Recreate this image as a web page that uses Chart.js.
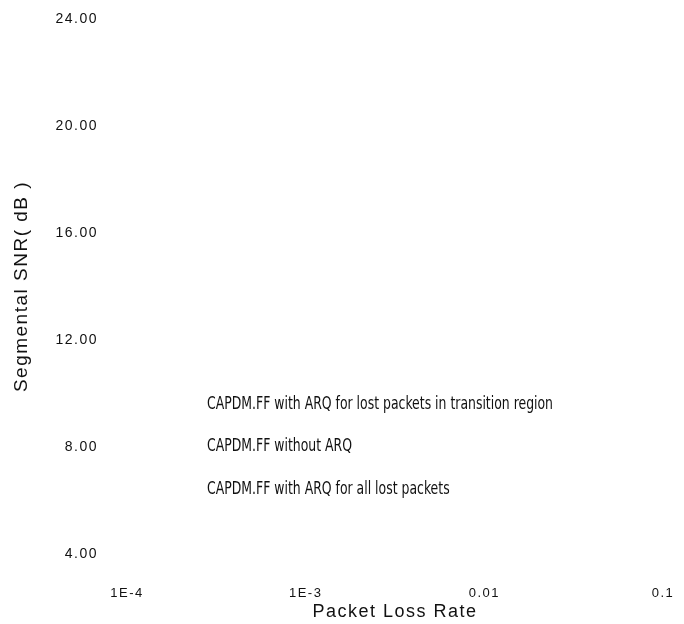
<!DOCTYPE html>
<html>
<head>
<meta charset="utf-8">
<script src="https://cdn.jsdelivr.net/npm/chart.js@4.4.1/dist/chart.umd.min.js"></script>
<style>
  html, body { margin: 0; padding: 0; background: #fff; }
  #wrap { width: 684px; height: 624px; }
</style>
</head>
<body>
<div id="wrap"><canvas id="c" width="684" height="624"></canvas></div>
<script>
// ---- data ----
// X axis: packet loss rate, logarithmic; tick positions and their printed labels
const xTickValues = [1e-4, 1e-3, 0.01, 0.1];
const xTickLabels = ['1E-4', '1E-3', '0.01', '0.1'];
// Y axis: segmental SNR (dB)
const yTickValues = [4, 8, 12, 16, 20, 24];
// Series names (legend entries)
const seriesNames = [
  'CAPDM.FF with ARQ for lost packets in transition region',
  'CAPDM.FF without ARQ',
  'CAPDM.FF with ARQ for all lost packets'
];
// The curves themselves are not visible in the reference image (no readable points),
// so the series carry no values.
const seriesTransition = [];
const seriesNoArq = [];
const seriesAllArq = [];

const legendPlugin = {
  id: 'inlineLegend',
  beforeDraw(chart) {
    chart.ctx.letterSpacing = '1.5px';
  },
  afterDraw(chart) {
    const ctx = chart.ctx;
    const area = chart.chartArea;
    ctx.save();
    ctx.letterSpacing = '0px';
    ctx.fillStyle = '#111';
    ctx.textBaseline = 'middle';
    ctx.textAlign = 'left';
    ctx.font = "18px 'Liberation Sans Narrow', 'DejaVu Sans Condensed', sans-serif";
    const w0 = ctx.measureText(chart.data.datasets[0].label).width;
    const sx = 346 / w0;
    const x0 = area.left + 80;
    const y0 = area.top + 385;
    chart.data.datasets.forEach((ds, i) => {
      ctx.save();
      ctx.translate(x0, y0 + i * 42.7);
      ctx.scale(sx, 1);
      ctx.fillText(ds.label, 0, 0);
      ctx.restore();
    });
    ctx.restore();
  }
};

const ctx = document.getElementById('c').getContext('2d');
new Chart(ctx, {
  type: 'line',
  data: {
    datasets: [
      { label: seriesNames[0], data: seriesTransition, borderColor: '#111', pointRadius: 0 },
      { label: seriesNames[1], data: seriesNoArq, borderColor: '#111', pointRadius: 0 },
      { label: seriesNames[2], data: seriesAllArq, borderColor: '#111', pointRadius: 0 }
    ]
  },
  options: {
    responsive: false,
    animation: false,
    layout: { padding: { left: 0, top: 19, right: 21, bottom: 0 } },
    plugins: { legend: { display: false }, tooltip: { enabled: false } },
    scales: {
      x: {
        type: 'logarithmic',
        min: 1e-4,
        max: 0.1,
        grid: { display: false, drawTicks: false },
        border: { display: false },
        afterBuildTicks: (s) => { s.ticks = xTickValues.map(v => ({ value: v })); },
        afterFit: (s) => { s.height = 70; s.paddingLeft = 0; s.paddingRight = 0; },
        ticks: {
          color: '#111',
          padding: 32,
          maxRotation: 0,
          autoSkip: false,
          font: { family: "'Liberation Sans', Arial, sans-serif", size: 13 },
          callback: (v) => { const i = xTickValues.indexOf(v); return i >= 0 ? xTickLabels[i] : ''; }
        },
        title: {
          display: true,
          text: 'Packet Loss Rate',
          color: '#111',
          font: { family: "'Liberation Sans', Arial, sans-serif", size: 18 },
          padding: { top: 0, bottom: 1 }
        }
      },
      y: {
        type: 'linear',
        min: 4,
        max: 24,
        grid: { display: false, drawTicks: false },
        border: { display: false },
        afterBuildTicks: (s) => { s.ticks = yTickValues.map(v => ({ value: v })); },
        afterFit: (s) => { s.width = 127; s.paddingTop = 0; s.paddingBottom = 0; },
        ticks: {
          color: '#111',
          padding: 29,
          font: { family: "'Liberation Sans', Arial, sans-serif", size: 14 },
          callback: (v) => Number(v).toFixed(2)
        },
        title: {
          display: true,
          text: 'Segmental SNR( dB )',
          color: '#111',
          font: { family: "'Liberation Sans', Arial, sans-serif", size: 19 },
          padding: { top: 10, bottom: 0 }
        }
      }
    }
  },
  plugins: [legendPlugin]
});
</script>
</body>
</html>
